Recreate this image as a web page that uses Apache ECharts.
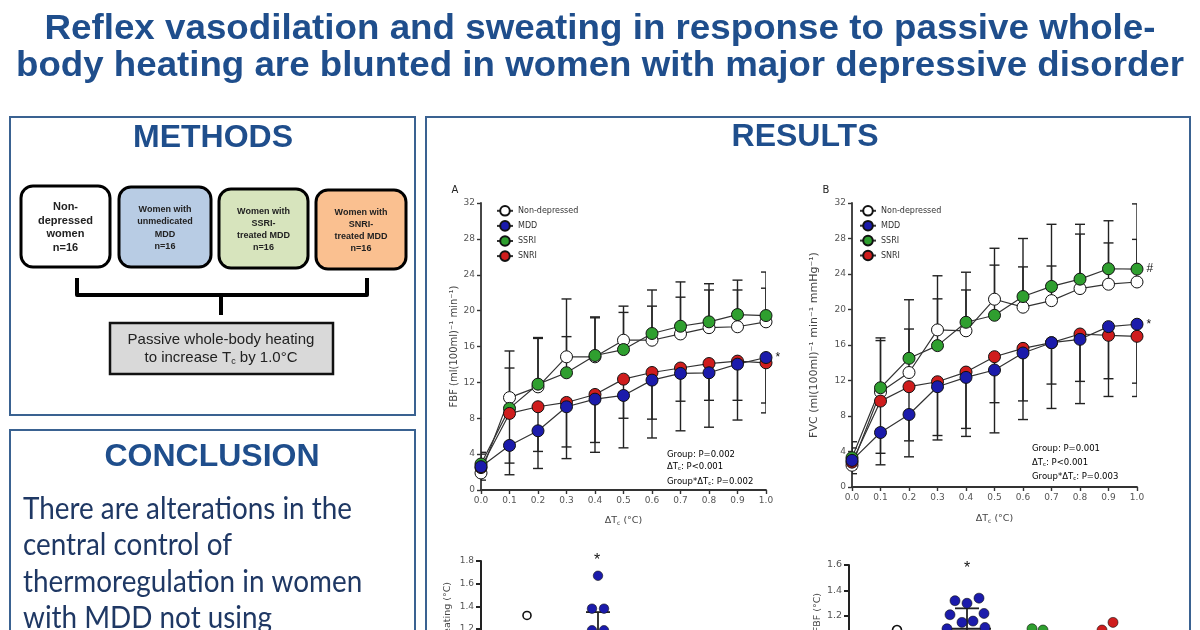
<!DOCTYPE html>
<html><head><meta charset="utf-8">
<script src="https://cdn.jsdelivr.net/npm/echarts@6/dist/echarts.min.js"></script>
<style>html,body{margin:0;padding:0;background:#fff}#c{width:1200px;height:630px}</style>
</head><body><div id="c"></div>
<script>
// ---------- data ----------
const steps = [0, 0.1, 0.2, 0.3, 0.4, 0.5, 0.6, 0.7, 0.8, 0.9, 1.0];
const groups = ['Non-depressed', 'MDD', 'SSRI', 'SNRI'];

// Panel A: FBF means
const fbfND   = [1.9, 10.3, 11.5, 14.85, 14.85, 16.7, 16.7, 17.4, 18.1, 18.2, 18.75];
const fbfMDD  = [2.6, 4.97, 6.6, 9.28, 10.13, 10.54, 12.25, 13.0, 13.07, 14.03, 14.77];
const fbfSSRI = [2.9, 9.1, 11.8, 13.07, 15.0, 15.66, 17.45, 18.26, 18.75, 19.56, 19.45];
const fbfSNRI = [2.5, 8.54, 9.28, 9.76, 10.65, 12.36, 13.1, 13.6, 14.1, 14.37, 14.18];
// Panel A: error bar ends (SD)
const fbfNDUp    = [4.2, 15.5, 16.9, 21.3, 19.2, 20.5, 20.5, 21.5, 22.3, 22.3, 22.5];
const fbfSSRIUp  = [4.0, 13.6, 17.0, 17.1, 19.3, 19.8, 22.3, 23.2, 23.0, 23.4, 24.3];
const fbfMDDLow  = [1.1, 1.7, 2.4, 3.5, 4.2, 4.7, 5.8, 6.6, 7.0, 7.8, 8.6];
const fbfSNRILow = [1.5, 3.0, 4.3, 4.8, 5.3, 8.0, 7.9, 9.9, 10.0, 10.0, 9.7];

// Panel B: FVC means
const fvcND   = [2.45, 10.7, 12.9, 17.7, 17.6, 21.16, 20.26, 21.0, 22.36, 22.85, 23.1];
const fvcMDD  = [3.0, 6.14, 8.17, 11.3, 12.35, 13.18, 15.1, 16.26, 16.64, 18.07, 18.34];
const fvcSSRI = [3.3, 11.18, 14.5, 15.93, 18.56, 19.35, 21.46, 22.6, 23.42, 24.59, 24.55];
const fvcSNRI = [2.8, 9.68, 11.3, 11.86, 12.95, 14.68, 15.62, 16.26, 17.24, 17.09, 16.98];
// Panel B: error bar ends (SD)
const fvcNDUp    = [5.1, 16.5, 17.8, 23.8, 22.2, 26.9, 24.8, 24.9, 28.5, 27.5, 27.9];
const fvcSSRIUp  = [4.4, 16.8, 21.1, 21.2, 24.2, 25.0, 28.0, 29.6, 29.6, 30.0, 31.9];
const fvcMDDLow  = [1.5, 2.5, 3.4, 5.3, 5.7, 6.1, 7.6, 8.85, 9.4, 10.2, 10.2];
const fvcSNRILow = [2.0, 3.8, 5.2, 5.8, 6.6, 9.5, 9.7, 11.6, 11.9, 12.2, 11.7];

// Bottom-left scatter (visible part): ΔTc at onset of sweating
const sweatND  = [1.32];
const sweatMDD = [1.67, 1.38, 1.38, 1.19, 1.19];
const sweatMDDMean = 1.15, sweatMDDSD = 0.20;
// Bottom-right scatter (visible part): ΔTc at onset of FBF
const onsetND   = [1.09];
const onsetMDD  = [1.32, 1.30, 1.34, 1.21, 1.22, 1.15, 1.16, 1.11, 1.10];
const onsetSSRI = [1.10, 1.09];
const onsetSNRI = [1.09, 1.15];
const onsetMDDMean = 1.10, onsetMDDSD = 0.16;

const yTicksLine = [0, 32, 4];        // min, max, interval
const statsA = ['Group: P=0.002', 'P<0.001', 'P=0.002'];
const statsB = ['Group: P=0.001', 'P<0.001', 'P=0.003'];

// ---------- styling ----------
const COL = { 'Non-depressed': '#ffffff', 'MDD': '#1b1bab', 'SSRI': '#2f9f2f', 'SNRI': '#cf1d1d' };
const NAVY = '#1f4e8c', BORDER = '#3a6291', TXT = '#1f3864';
const SMALL = 'DejaVu Sans';
const axisCol = '#333';

function measure(text, font) {
  const c = document.createElement('canvas').getContext('2d');
  c.font = font; return c.measureText(text).width;
}

function lineSeries(name, vals, xi, mark) {
  return {
    type: 'line', name, xAxisIndex: xi, yAxisIndex: xi, z: 5,
    data: vals.map((v, i) => {
      const it = { value: [steps[i], v] };
      if (mark && i === vals.length - 1) it.label = { show: true, position: 'right', distance: 3, formatter: mark, fontSize: 12, color: '#111', fontFamily: 'Liberation Sans' };
      return it;
    }),
    symbol: 'circle', symbolSize: 12,
    itemStyle: { color: COL[name], borderColor: '#111', borderWidth: 1 },
    lineStyle: { color: '#333', width: 1.2 },
    emphasis: { disabled: true }
  };
}

function errRender(params, api) {
  const x = api.value(0), m = api.value(1), e = api.value(2);
  const p0 = api.coord([x, m]), p1 = api.coord([x, e]);
  const st = { stroke: '#222', lineWidth: 1.4 };
  return { type: 'group', children: [
    { type: 'line', shape: { x1: p0[0], y1: p0[1], x2: p1[0], y2: p1[1] }, style: st },
    { type: 'line', shape: { x1: p1[0] - 5, y1: p1[1], x2: p1[0] + 5, y2: p1[1] }, style: st }
  ]};
}
function errData(pairs) {
  const out = [];
  pairs.forEach(([means, ends]) => means.forEach((m, i) => out.push([steps[i], m, ends[i]])));
  return out;
}

function meanRender(params, api) {
  const c = api.value(0), m = api.value(1), sd = api.value(2);
  const pm = api.coord([c, m]), pt = api.coord([c, m + sd]), pb = api.coord([c, m - sd]);
  const st = { stroke: '#222', lineWidth: 1.8 };
  return { type: 'group', children: [
    { type: 'line', shape: { x1: pm[0] - 24, y1: pm[1], x2: pm[0] + 24, y2: pm[1] }, style: st },
    { type: 'line', shape: { x1: pt[0], y1: pt[1], x2: pb[0], y2: pb[1] }, style: st },
    { type: 'line', shape: { x1: pt[0] - 12, y1: pt[1], x2: pt[0] + 12, y2: pt[1] }, style: st },
    { type: 'line', shape: { x1: pb[0] - 12, y1: pb[1], x2: pb[0] + 12, y2: pb[1] }, style: st }
  ]};
}

function scatterSeries(id, group, vals, offs, xi, size) {
  return {
    type: 'scatter', name: id + '-' + group, xAxisIndex: xi, yAxisIndex: xi, z: 6,
    symbolSize: size,
    itemStyle: { color: COL[group], opacity: 1, borderColor: '#111', borderWidth: group === 'Non-depressed' ? 1.6 : 0.6 },
    data: vals.map((v, i) => ({ value: [group, v], symbolOffset: [offs[i] || 0, 0] })),
    emphasis: { disabled: true }
  };
}

function lineXAxis(gi, gap) {
  return {
    gridIndex: gi, type: 'value', min: 0, max: 1, interval: 0.1,
    axisLine: { lineStyle: { color: axisCol, width: 1.8 } },
    axisTick: { length: 4, lineStyle: { color: axisCol, width: 1.4 } },
    axisLabel: { formatter: v => v.toFixed(1), fontSize: 9, color: '#555', fontFamily: SMALL, margin: 6 },
    splitLine: { show: false },
    name: '{n|ΔT}{s|c}{n| (°C)}', nameLocation: 'middle', nameGap: gap,
    nameTextStyle: { rich: { n: { fontSize: 9.5, color: '#444', fontFamily: SMALL }, s: { fontSize: 6, color: '#444', fontFamily: SMALL, padding: [5, 0, 0, 0] } } }
  };
}
function lineYAxis(gi, name, gap, fs) {
  return {
    gridIndex: gi, type: 'value', min: yTicksLine[0], max: yTicksLine[1], interval: yTicksLine[2],
    axisLine: { show: true, lineStyle: { color: axisCol, width: 1.8 } },
    axisTick: { show: true, length: 4, lineStyle: { color: axisCol, width: 1.4 } },
    axisLabel: { fontSize: 9, color: '#555', fontFamily: SMALL, margin: 6 },
    splitLine: { show: false },
    name, nameLocation: 'middle', nameGap: gap, nameRotate: 90,
    nameTextStyle: { fontSize: fs, color: '#444', fontFamily: SMALL }
  };
}
function scatXAxis(gi) {
  return { gridIndex: gi, type: 'category', data: groups, show: false, boundaryGap: true };
}
function scatYAxis(gi, min, max, off, fs) {
  return {
    gridIndex: gi, type: 'value', min, max, interval: 0.2, offset: off,
    axisLine: { show: true, lineStyle: { color: '#222', width: 2 } },
    axisTick: { show: true, length: 5, lineStyle: { color: '#222', width: 2 } },
    axisLabel: { formatter: v => v.toFixed(1), fontSize: fs, color: '#555', fontFamily: SMALL, margin: 7 },
    splitLine: { show: false }
  };
}

// ---------- graphics (layout boxes & text) ----------
const title1 = 'Reflex vasodilation and sweating in response to passive whole-';
const title2 = 'body heating are blunted in women with major depressive disorder';
const TFONT = 'bold 35px "Liberation Sans"';
const s1 = 1111 / measure(title1, TFONT), s2 = 1168 / measure(title2, TFONT);

const concl = ['There are alterations in the', 'central control of', 'thermoregulation in women', 'with MDD not using'];
const CFONT = '30px Lato';
const cs = 329 / measure(concl[0], CFONT);

const g = [];
const T = (x, y, text, style, extra) => g.push(Object.assign({ type: 'text', x, y, z: 10, style: Object.assign({ text, textAlign: 'center', textVerticalAlign: 'middle' }, style) }, extra || {}));

T(600, 29, title1, { font: TFONT, fill: NAVY }, { scaleX: s1 });
T(600, 66, title2, { font: TFONT, fill: NAVY }, { scaleX: s2 });

// panels
[[10, 117, 405, 298], [10, 430, 405, 260], [426, 117, 764, 560]].forEach(r =>
  g.push({ type: 'rect', z: 1, shape: { x: r[0], y: r[1], width: r[2], height: r[3] }, style: { fill: 'none', stroke: BORDER, lineWidth: 2 } }));

const HFONT = 'bold 32px "Liberation Sans"';
T(213, 138, 'METHODS', { font: HFONT, fill: NAVY });
T(805, 137, 'RESULTS', { font: HFONT, fill: NAVY });
T(212, 457, 'CONCLUSION', { font: HFONT, fill: NAVY });

// method group boxes
const mboxes = [
  [21, 186, 89, 81, '#ffffff', 'Non-\ndepressed\nwomen\nn=16', 11, 13.7],
  [119, 187, 92, 80, '#b8cce4', 'Women with\nunmedicated\nMDD\nn=16', 9, 12.2],
  [219, 189, 89, 79, '#d7e4bd', 'Women with\nSSRI-\ntreated MDD\nn=16', 9, 12.2],
  [316, 190, 90, 79, '#fac090', 'Women with\nSNRI-\ntreated MDD\nn=16', 9, 12.2]
];
mboxes.forEach(b => {
  g.push({ type: 'rect', z: 2, shape: { x: b[0], y: b[1], width: b[2], height: b[3], r: 12 }, style: { fill: b[4], stroke: '#000', lineWidth: 3 } });
  T(b[0] + b[2] / 2, b[1] + b[3] / 2 + 1, b[5], { font: 'bold ' + b[6] + 'px "Liberation Sans"', fill: '#222', lineHeight: b[7] });
});
// bracket
g.push({ type: 'polyline', z: 2, shape: { points: [[77, 278], [77, 295], [367, 295], [367, 278]] }, style: { stroke: '#000', lineWidth: 4, lineJoin: 'round', fill: 'none' } });
g.push({ type: 'line', z: 2, shape: { x1: 221, y1: 295, x2: 221, y2: 315 }, style: { stroke: '#000', lineWidth: 4 } });
// heating box
g.push({ type: 'rect', z: 2, shape: { x: 110, y: 323, width: 223, height: 51 }, style: { fill: '#d9d9d9', stroke: '#111', lineWidth: 2.5 } });
T(221, 340, 'Passive whole-body heating', { font: '15px "Liberation Sans"', fill: '#222' });
T(221, 358, '{a|to increase T}{s|c}{a| by 1.0°C}', { fill: '#222', rich: { a: { fontSize: 15, fontFamily: 'Liberation Sans', color: '#222' }, s: { fontSize: 9, fontFamily: 'Liberation Sans', color: '#222', padding: [7, 0, 0, 0] } } });

// conclusion text
const cy = [509, 545.5, 582, 618.5];
concl.forEach((t, i) => T(23, cy[i], t, { font: CFONT, fill: TXT, textAlign: 'left' }, { scaleX: cs }));

// panel letters, stats
T(455, 190, 'A', { font: '10px "DejaVu Sans"', fill: '#222' });
T(826, 190, 'B', { font: '10px "DejaVu Sans"', fill: '#222' });
function stats(x, ys, arr) {
  const rich = { n: { fontSize: 8.5, fontFamily: SMALL, color: '#444' }, s: { fontSize: 5.5, fontFamily: SMALL, color: '#444', padding: [4, 0, 0, 0] } };
  T(x, ys[0], '{n|' + arr[0] + '}', { textAlign: 'left', rich });
  T(x, ys[1], '{n|ΔT}{s|c}{n|: ' + arr[1] + '}', { textAlign: 'left', rich });
  T(x, ys[2], '{n|Group*ΔT}{s|c}{n|: ' + arr[2] + '}', { textAlign: 'left', rich });
}
stats(667, [455, 467, 482], statsA);
stats(1032, [449, 463, 477], statsB);

// scatter stars & y names
T(597, 561, '*', { font: '16px "Liberation Sans"', fill: '#111' });
T(967, 569, '*', { font: '16px "Liberation Sans"', fill: '#111' });
g.push({ type: 'text', z: 10, x: 448, y: 582, rotation: Math.PI / 2, style: { text: 'ΔTc at onset of sweating (°C)', font: '9.5px "DejaVu Sans"', fill: '#444', textAlign: 'right', textVerticalAlign: 'middle' } });
g.push({ type: 'text', z: 10, x: 818, y: 593, rotation: Math.PI / 2, style: { text: 'ΔTc at onset of FBF (°C)', font: '9.5px "DejaVu Sans"', fill: '#444', textAlign: 'right', textVerticalAlign: 'middle' } });

// ---------- option ----------
const option = {
  animation: false,
  backgroundColor: '#fff',
  grid: [
    { left: 481, top: 203, width: 285, height: 287, outerBoundsMode: 'none' },
    { left: 852, top: 203, width: 285, height: 284, outerBoundsMode: 'none' },
    { left: 491.5, top: 561, width: 284, height: 113.5, outerBoundsMode: 'none' },
    { left: 862, top: 565, width: 280, height: 102, outerBoundsMode: 'none' }
  ],
  xAxis: [lineXAxis(0, 25), lineXAxis(1, 26), scatXAxis(2), scatXAxis(3)],
  yAxis: [
    lineYAxis(0, 'FBF (ml(100ml)⁻¹ min⁻¹)', 20, 10),
    lineYAxis(1, 'FVC (ml(100ml)⁻¹ min⁻¹ mmHg⁻¹)', 32, 11),
    scatYAxis(2, 0.8, 1.8, 10.5, 9),
    scatYAxis(3, 0.8, 1.6, 13, 9.5)
  ],
  legend: [
    { data: groups, orient: 'vertical', left: 491, top: 200, itemWidth: 16, itemHeight: 12, itemGap: 3.5, selectedMode: false, textStyle: { fontSize: 8, fontFamily: SMALL, color: '#333' } },
    { data: groups, orient: 'vertical', left: 854, top: 200, itemWidth: 16, itemHeight: 12, itemGap: 3.3, selectedMode: false, textStyle: { fontSize: 8, fontFamily: SMALL, color: '#333' } }
  ],
  series: [
    { type: 'custom', name: 'errA', xAxisIndex: 0, yAxisIndex: 0, z: 3, clip: true, renderItem: errRender, encode: { x: 0, y: 1 },
      data: errData([[fbfND, fbfNDUp], [fbfSSRI, fbfSSRIUp], [fbfMDD, fbfMDDLow], [fbfSNRI, fbfSNRILow]]) },
    { type: 'custom', name: 'errB', xAxisIndex: 1, yAxisIndex: 1, z: 3, clip: true, renderItem: errRender, encode: { x: 0, y: 1 },
      data: errData([[fvcND, fvcNDUp], [fvcSSRI, fvcSSRIUp], [fvcMDD, fvcMDDLow], [fvcSNRI, fvcSNRILow]]) },
    lineSeries('Non-depressed', fbfND, 0),
    lineSeries('SSRI', fbfSSRI, 0),
    lineSeries('SNRI', fbfSNRI, 0),
    lineSeries('MDD', fbfMDD, 0, '*'),
    lineSeries('Non-depressed', fvcND, 1),
    lineSeries('SSRI', fvcSSRI, 1, '#'),
    lineSeries('SNRI', fvcSNRI, 1),
    lineSeries('MDD', fvcMDD, 1, '*'),
    { type: 'custom', name: 'sweatSD', xAxisIndex: 2, yAxisIndex: 2, z: 4, renderItem: meanRender, encode: { x: 0, y: 1 }, data: [['MDD', sweatMDDMean, sweatMDDSD]] },
    scatterSeries('sweat', 'Non-depressed', sweatND, [0], 2, 8),
    scatterSeries('sweat', 'MDD', sweatMDD, [0, -6, 6, -6, 6], 2, 9.5),
    { type: 'custom', name: 'onsetSD', xAxisIndex: 3, yAxisIndex: 3, z: 4, renderItem: meanRender, encode: { x: 0, y: 1 }, data: [['MDD', onsetMDDMean, onsetMDDSD]] },
    scatterSeries('onset', 'Non-depressed', onsetND, [0], 3, 9),
    scatterSeries('onset', 'MDD', onsetMDD, [-12, 0, 12, -17, 17, -5, 6, 18, -20], 3, 10),
    scatterSeries('onset', 'SSRI', onsetSSRI, [-5, 6], 3, 10),
    scatterSeries('onset', 'SNRI', onsetSNRI, [-5, 6], 3, 10)
  ],
  graphic: { elements: g }
};
const chart = echarts.init(document.getElementById('c'), null, { renderer: 'canvas' });
chart.setOption(option);
</script></body></html>
